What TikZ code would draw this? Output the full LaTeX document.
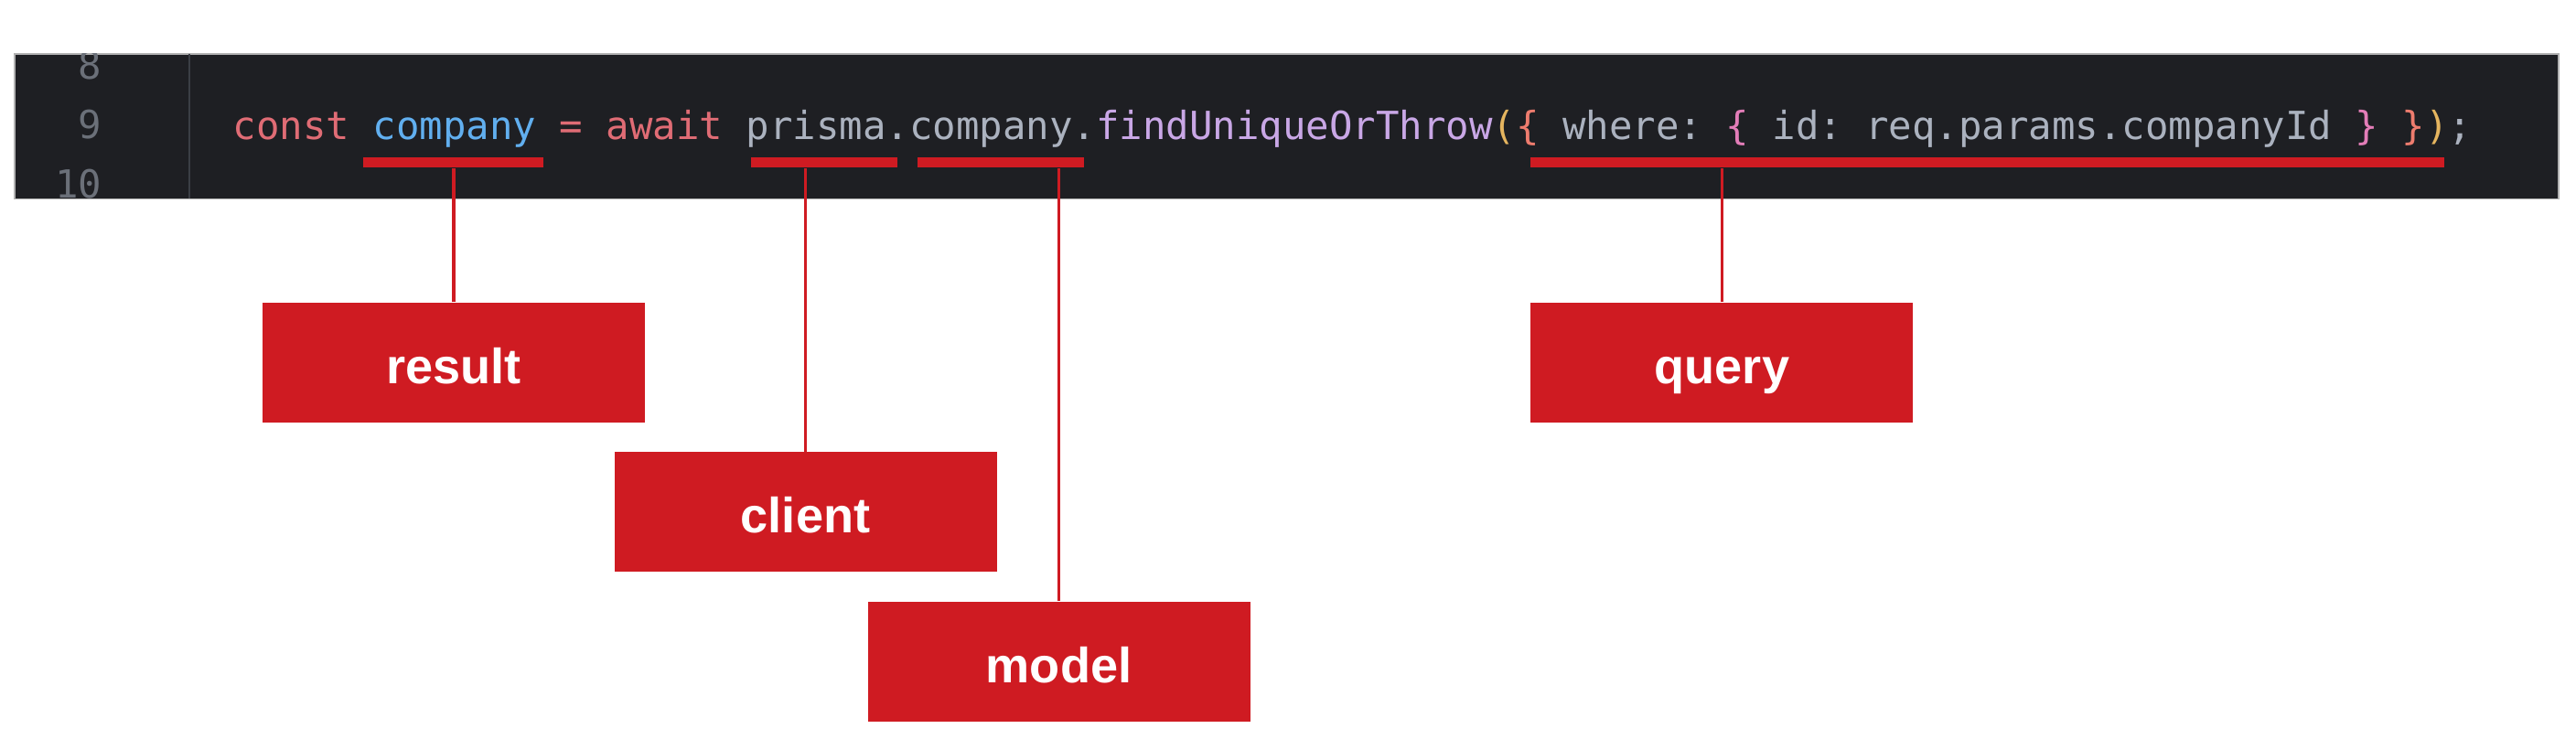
\documentclass[tikz,border=0pt]{standalone}
\usepackage{fontspec}
\setsansfont{Liberation Sans}
\setmonofont{DejaVu Sans Mono}
\usepackage{tikz}
\usetikzlibrary{positioning}
\definecolor{codebg}{HTML}{1E1F23}
\definecolor{kwred}{HTML}{E06C75}
\definecolor{varblue}{HTML}{61AFEF}
\definecolor{plaingray}{HTML}{ABB2BF}
\definecolor{fnlilac}{HTML}{C9A7E6}
\definecolor{brgold}{HTML}{E5B55F}
\definecolor{brsalmon}{HTML}{EE7C6E}
\definecolor{brpink}{HTML}{E37DB8}
\definecolor{lnumgray}{HTML}{6B7079}
\definecolor{guttergray}{HTML}{3B3E45}
\definecolor{markred}{HTML}{CF1B22}
\tikzset{
codeline/.style={font=\ttfamily\fontsize{12.05}{14}\selectfont, inner sep=0, anchor=base west}, % the source line
lnum/.style={font=\ttfamily\fontsize{12.05}{14}\selectfont, text=lnumgray, inner sep=0, anchor=base east}, % line numbers
uline/.style={fill=markred, inner sep=0, minimum height=0.11cm}, % red bar under a token
labelbox/.style={fill=markred, text=white, inner sep=0, minimum width=4.18cm, minimum height=1.31cm,
  text height=0.46cm, text depth=0cm, font=\sffamily\bfseries\fontsize{15.4}{18}\selectfont}, % red label
lead/.style={draw=markred, line width=0.9pt}, % thin line from bar to label
}

\begin{document}
\begin{tikzpicture}
            \useasboundingbox (0,0) rectangle (28.16,-8.2);
            % editor band
            \fill[codebg, draw=gray!60, line width=0.3pt] (0.16,-0.59) rectangle (27.97,-2.175);
            \draw[guttergray, line width=0.6pt] (2.07,-0.59) -- (2.07,-2.175);
            \begin{scope}
                \clip (0.16,-0.59) rectangle (27.97,-2.175);
                \node[lnum] (n8) at (1.12,-0.87) {8};
                \node[lnum] (n9) at (1.12,-1.52) {9};
                \node[lnum] (n10) at (1.12,-2.17) {10};
            \end{scope}
            \node[codeline] (code) at (2.54,-1.53) {\textcolor{kwred}{const} \textcolor{varblue}{company} \textcolor{kwred}{=} \textcolor{kwred}{await} \textcolor{plaingray}{prisma.company.}\textcolor{fnlilac}{findUniqueOrThrow}\textcolor{brgold}{(}\textcolor{brsalmon}{\{} \textcolor{plaingray}{where:} \textcolor{brpink}{\{} \textcolor{plaingray}{id: req.params.companyId} \textcolor{brpink}{\}} \textcolor{brsalmon}{\}}\textcolor{brgold}{)}\textcolor{plaingray}{;}};

            % bars under the tokens
            \node[uline, minimum width=1.97cm] (ulres) at (4.955,-1.78) {};
            \node[uline, minimum width=1.60cm] (ulcli) at (9.01,-1.78) {};
            \node[uline, minimum width=1.82cm] (ulmod) at (10.94,-1.78) {};
            \node[uline, minimum width=9.99cm] (ulqry) at (21.725,-1.78) {};

            % labels
            \node[labelbox] (result) at (4.96,-3.965) {result};
            \node[labelbox, right=9.67cm of result] (query) {query};
            \node[labelbox, below=0.31cm of result, xshift=3.845cm] (client) {client};
            \node[labelbox, below=0.31cm of client, xshift=2.77cm] (model) {model};

            \draw[lead] (result.north) -- (result.north |- ulres.south);
            \draw[lead] (client.north) -- (client.north |- ulcli.south);
            \draw[lead] (model.north) -- (model.north |- ulmod.south);
            \draw[lead] (query.north) -- (query.north |- ulqry.south);
        \end{tikzpicture}
\end{document}
